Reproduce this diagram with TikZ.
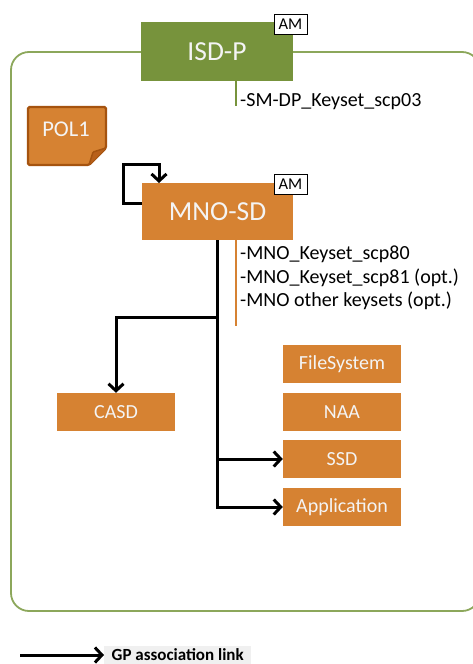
\documentclass[tikz,border=0pt]{standalone}
\usepackage{fontspec}
\setmainfont{Carlito}
\usepackage{xcolor}
\usepackage{tikz}
\usetikzlibrary{positioning,arrows.meta}

\definecolor{isdgreen}{HTML}{77933C}
\definecolor{framegreen}{HTML}{8CA75B}
\definecolor{sdorange}{HTML}{D68232}
\definecolor{poledge}{HTML}{A5530F}
\definecolor{polfold}{HTML}{B8601A}
\definecolor{boxtext}{HTML}{F4F4F4}

\tikzset{
	sdbox/.style={fill=sdorange, text=boxtext, inner sep=0pt, font=\fontsize{20}{24}\selectfont},
	ambox/.style={draw=black, fill=white, line width=1pt, minimum width=33pt, minimum height=20pt, inner sep=0pt, font=\fontsize{16.5}{18}\selectfont},
	keytext/.style={anchor=west, inner sep=0pt, font=\fontsize{20}{23.5}\selectfont, align=left},
	gplink/.style={line width=3pt, -{Straight Barb[length=7pt, width=15pt, line width=3pt]}}
}

\begin{document}
\begin{tikzpicture}[x=1pt, y=-1pt]
	\useasboundingbox (0,0) rectangle (472,664);
	% frame
	\draw[framegreen, line width=1.8pt, rounded corners=18pt] (11,52) rectangle (480,611);
	% ISD-P
	\node[fill=isdgreen, text=boxtext, minimum width=152pt, minimum height=59pt, inner sep=0pt, font=\fontsize{27.5}{30}\selectfont] (isdp) at (217,51.5) {ISD-P};
	\node[ambox] (isdpam) at (290.5,24) {AM};
	\coordinate (isdpkey) at (236,106);
	\draw[isdgreen, line width=1.2pt] (isdp.south -| isdpkey) -- (isdpkey);
	\node[keytext] (isdpkeys) at (240,102) {-SM-DP\_Keyset\_scp03};
	% POL1
	\draw[poledge, fill=sdorange, line width=2.2pt, rounded corners=1.5pt] (28,107) -- (106,107) -- (106,148) -- (89,165) -- (28,165) -- cycle;
	\draw[poledge, fill=polfold, line width=1.5pt, rounded corners=1pt] (106,148) -- (93,152) -- (89,165);
	\node[text=boxtext, inner sep=0pt, font=\fontsize{22.5}{26}\selectfont] (pol1) at (66,129) {POL1};
	% MNO-SD
	\node[sdbox, minimum width=151pt, minimum height=57pt, font=\fontsize{27.5}{30}\selectfont] (mnosd) at (217.5,211.5) {MNO-SD};
	\node[ambox] (mnosdam) at (290.5,184) {AM};
	\coordinate (mnokey) at (236,326);
	\draw[sdorange, line width=1.2pt] (mnosd.south -| mnokey) -- (mnokey);
	\node[keytext, anchor=north west] (mnokeys) at (240,246) {-MNO\_Keyset\_scp80\\-MNO\_Keyset\_scp81 (opt.)\\-MNO other keysets (opt.)};
	% children
	\node[sdbox, minimum width=118pt, minimum height=38pt] (casd) at (116,412) {CASD};
	\node[sdbox, minimum width=118pt, minimum height=38pt] (fs) at (342,364) {FileSystem};
	\node[sdbox, minimum width=118pt, minimum height=38pt] (naa) at (342,412) {NAA};
	\node[sdbox, minimum width=118pt, minimum height=38pt] (ssd) at (342,459) {SSD};
	\node[sdbox, minimum width=118pt, minimum height=38pt] (app) at (342,507) {Application};
	% links
	\coordinate (trunk) at (217,240);
	\coordinate (fork) at (217,317);
	\coordinate (loop) at (123,164);
	\draw[gplink] (mnosd.west |- 0,203) -| (loop) -| (159,183);
	\draw[line width=3pt] (trunk) -- (fork);
	\draw[gplink] (fork) -| (casd.north);
	\draw[gplink] (fork) |- (ssd.west);
	\draw[gplink] (fork) |- (app.west);
	% legend
	\node[fill=black!6, anchor=west, minimum height=19pt, minimum width=147pt, inner sep=0pt, font=\bfseries\fontsize{17}{19}\selectfont] (legend) at (104,655) {GP association link};
	\coordinate (legendtail) at (20,655);
	\draw[gplink] (legendtail) -- (legend.west);
\end{tikzpicture}
\end{document}
